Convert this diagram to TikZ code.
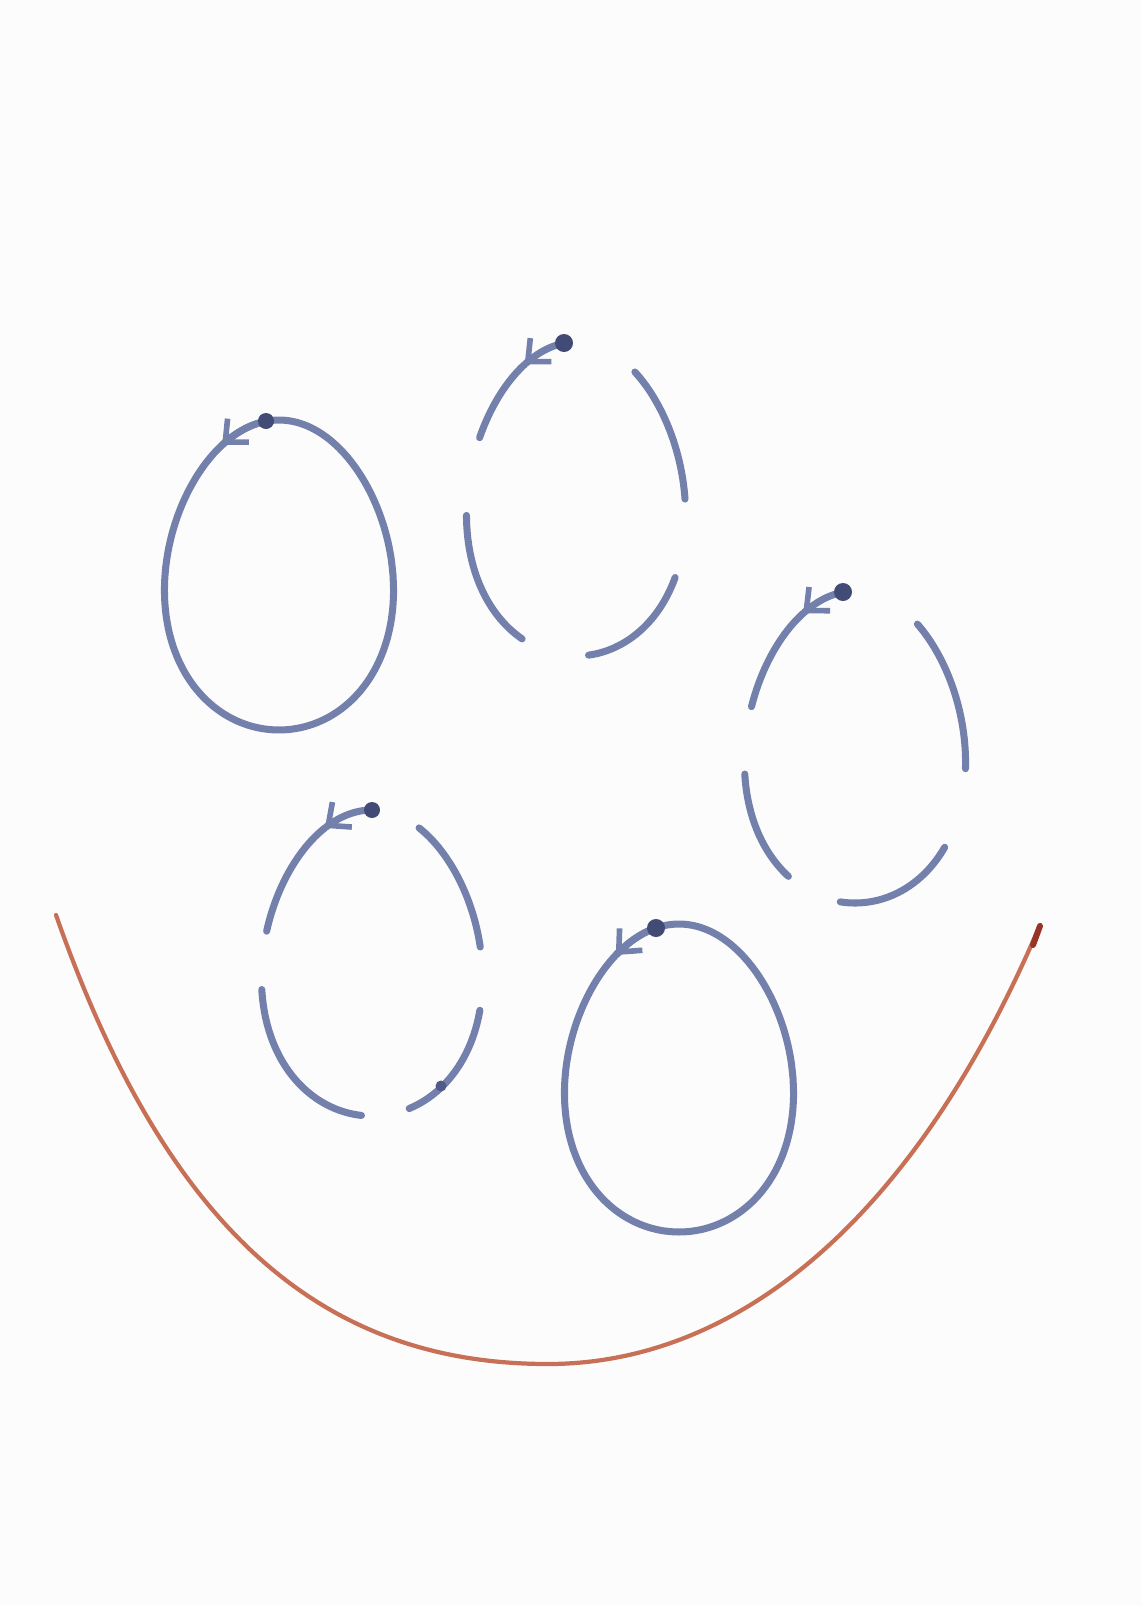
\documentclass[tikz,border=0pt]{standalone}
\usetikzlibrary{arrows.meta}

\definecolor{paper}{RGB}{252,252,252}
\definecolor{ink}{RGB}{116,128,172}
\definecolor{inkdark}{RGB}{66,74,118}
\definecolor{rust}{RGB}{200,112,86}
\definecolor{rustdark}{RGB}{150,52,42}

% egg arc: centre x, centre y, half width, half height, from angle, to angle
\newcommand{\eggpath}[6]{plot[domain=#5:#6,samples=60,smooth,variable=\t]
  ({#1+#3*cos(\t)*(1-0.1*sin(\t))},{#2-#4*sin(\t)})}

\tikzset{
  loopline/.style={draw=ink,line width=2pt,line cap=round},
  flowarr/.style={draw=ink,line width=2pt,line cap=round,
    -{Straight Barb[length=5pt,width=9pt,line width=1.6pt]}},
  startdot/.style={fill=inkdark},
  bowl/.style={draw=rust,line width=1.2pt,line cap=round}
}

\begin{document}
\begin{tikzpicture}[x=0.01cm,y=-0.01cm]
\fill[paper] (0,0) rectangle (1142,1606);
\useasboundingbox (0,0) rectangle (1142,1606);

% loop 1, closed
\draw[loopline] \eggpath{279}{575}{114}{155}{0}{360};
\draw[flowarr] \eggpath{279}{575}{114}{155}{97}{123};
\coordinate (d1) at (266,421);
\fill[startdot] (d1) circle (8);

% loop 2, broken
\draw[loopline] \eggpath{576}{499}{109}{157}{121}{157};
\draw[loopline] \eggpath{576}{499}{109}{157}{0}{54};
\draw[loopline] \eggpath{576}{499}{109}{157}{186}{243};
\draw[loopline] \eggpath{576}{499}{109}{157}{-84}{-30};
\draw[flowarr] \eggpath{576}{499}{109}{157}{97}{121};
\coordinate (d2) at (564,343);
\fill[startdot] (d2) circle (9);

% loop 3, broken
\draw[loopline] \eggpath{855}{747}{110}{156}{121}{165};
\draw[loopline] \eggpath{855}{747}{110}{156}{-8}{52};
\draw[loopline] \eggpath{855}{747}{110}{156}{190}{236};
\draw[loopline] \eggpath{855}{747}{110}{156}{-97}{-40};
\draw[flowarr] \eggpath{855}{747}{110}{156}{97}{121};
\coordinate (d3) at (843,592);
\fill[startdot] (d3) circle (9);

% loop 4, broken
\draw[loopline] \eggpath{372}{963}{110}{153}{118}{168};
\draw[loopline] \eggpath{372}{963}{110}{153}{6}{62};
\draw[loopline] \eggpath{372}{963}{110}{153}{190}{265};
\draw[loopline] \eggpath{372}{963}{110}{153}{-72}{-18};
\draw[flowarr] \eggpath{372}{963}{110}{153}{90}{118};
\fill[inkdark!70!ink] (441,1086) circle (5.5);
\coordinate (d4) at (372,810);
\fill[startdot] (d4) circle (8);

% loop 5, closed
\draw[loopline] \eggpath{679}{1078}{114}{154}{0}{360};
\draw[flowarr] \eggpath{679}{1078}{114}{154}{103}{127};
\coordinate (d5) at (656,928);
\fill[startdot] (d5) circle (9);

% bowl
\draw[bowl] (56,915) .. controls (170,1240) and (330,1364) .. (548,1364)
  .. controls (730,1364) and (910,1230) .. (1040,925);
\draw[rustdark,line width=1.7pt,line cap=round] (1033,945) -- (1040,926);
\end{tikzpicture}
\end{document}
